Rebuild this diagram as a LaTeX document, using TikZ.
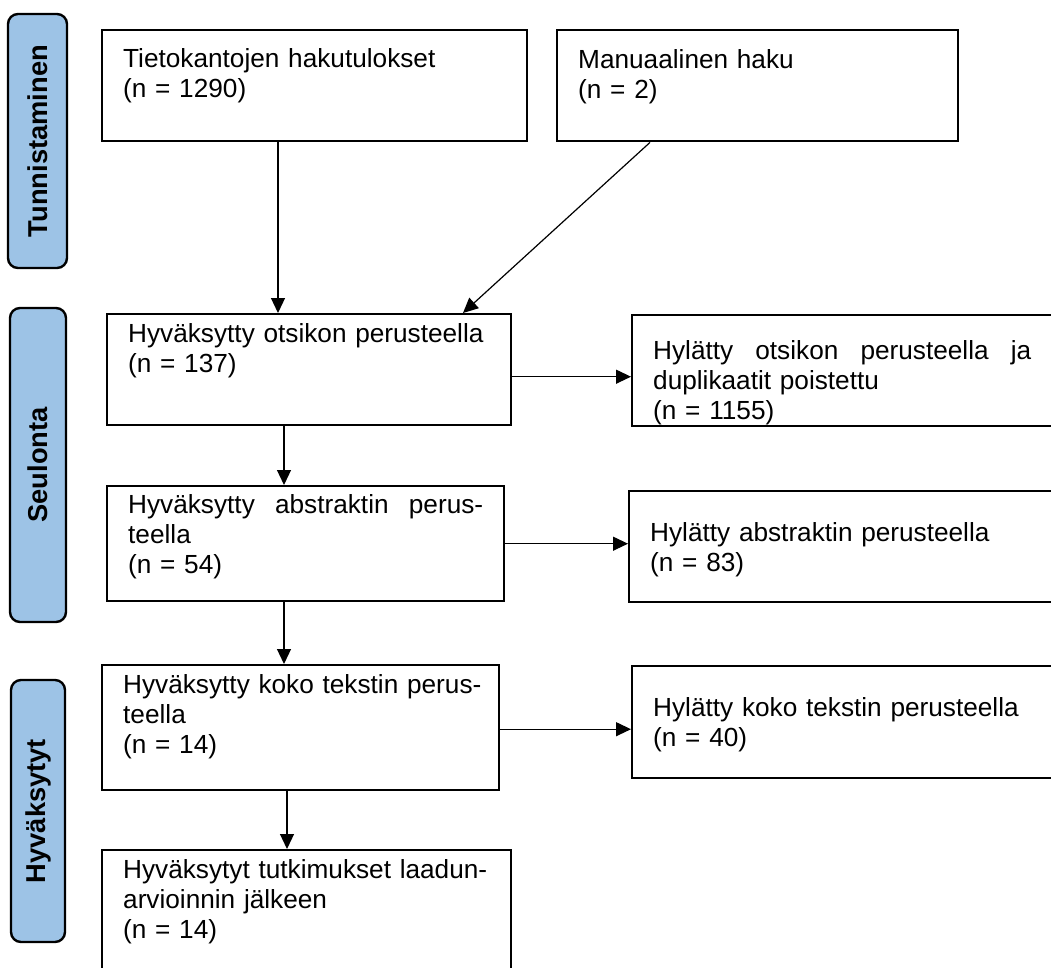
\documentclass[tikz,border=0pt]{standalone}
\usepackage{fontspec}
\setmainfont{Liberation Sans}
\usetikzlibrary{arrows.meta}
\definecolor{phaseblue}{RGB}{157,195,230}

\begin{document}
\begin{tikzpicture}[x=1pt,y=-1pt,
  box/.style={draw, line width=2.4pt, anchor=north west, inner xsep=21pt, inner ysep=0pt,
    align=left, font=\fontsize{26.2}{30}\selectfont},
  phase/.style={draw, line width=2.4pt, rounded corners=10pt, fill=phaseblue, rotate=90,
    inner sep=0pt, font=\fontsize{27.3}{30}\selectfont\bfseries},
  arr/.style={line width=1.2pt, -{Triangle[length=15pt,width=14pt]}}]
\clip (0,0) rectangle (1051,967);
\fill[white] (0,0) rectangle (1051,967);

% vaiheet
\node[phase, minimum width=254pt, minimum height=59pt] (tunn) at (37.5,141) {Tunnistaminen};
\node[phase, minimum width=314pt, minimum height=56pt] (seul) at (38,465) {Seulonta};
\node[phase, minimum width=262pt, minimum height=54pt] (hyv) at (38,811) {Hyväksytyt};

% laatikot
\node[box, text width=383pt, text height=37pt, text depth=74pt] (haku) at (101,29)
  {Tietokantojen hakutulokset\\(n = 1290)};
\node[box, text width=359pt, text height=38pt, text depth=73pt] (manu) at (556,29)
  {Manuaalinen haku\\(n = 2)};
\node[box, text width=362pt, text height=28pt, text depth=83pt] (otsikko) at (106,313)
  {Hyväksytty otsikon perusteella\\(n = 137)};
\node[box, text width=383pt, text height=44pt, text depth=67pt] (hylotsikko) at (631,314)
  {\hbox to 378pt{Hylätty\hfill otsikon\hfill perusteella\hfill ja}\\duplikaatit poistettu\\(n = 1155)};
\node[box, text width=355pt, text height=27pt, text depth=88pt] (abstr) at (106,485)
  {\hbox to 355pt{Hyväksytty\hfill abstraktin\hfill perus-}\\teella\\(n = 54)};
\node[box, text width=383pt, text height=50pt, text depth=61pt] (hylabstr) at (628,490)
  {Hylätty abstraktin perusteella\\(n = 83)};
\node[box, text width=355pt, text height=28pt, text depth=97pt] (koko) at (101,664)
  {\hbox to 355pt{Hyväksytty koko tekstin perus-\hss}\\teella\\(n = 14)};
\node[box, text width=383pt, text height=50pt, text depth=62pt] (hylkoko) at (631,665)
  {Hylätty koko tekstin perusteella\\(n = 40)};
\node[box, text width=367pt, text height=28pt, text depth=140pt] (laatu) at (101,849)
  {Hyväksytyt tutkimukset laadun-\\arvioinnin jälkeen\\(n = 14)};

% nuolet
\draw[arr] ([xshift=177pt]haku.south west) -- ([xshift=177pt]haku.south west |- otsikko.north);
\draw[arr] ([xshift=94pt]manu.south west) -- ([xshift=357pt]otsikko.north west);
\draw[arr] ([yshift=-7pt]otsikko.east) -- ([yshift=-7pt]otsikko.east -| hylotsikko.west);
\draw[arr] ([xshift=178pt]otsikko.south west) -- ([xshift=178pt]otsikko.south west |- abstr.north);
\draw[arr] (abstr.east) -- (abstr.east -| hylabstr.west);
\draw[arr] ([xshift=178pt]abstr.south west) -- ([xshift=178pt]abstr.south west |- koko.north);
\draw[arr] ([yshift=-1.5pt]koko.east) -- ([yshift=-1.5pt]koko.east -| hylkoko.west);
\draw[arr] ([xshift=186pt]koko.south west) -- ([xshift=186pt]koko.south west |- laatu.north);
\end{tikzpicture}
\end{document}
